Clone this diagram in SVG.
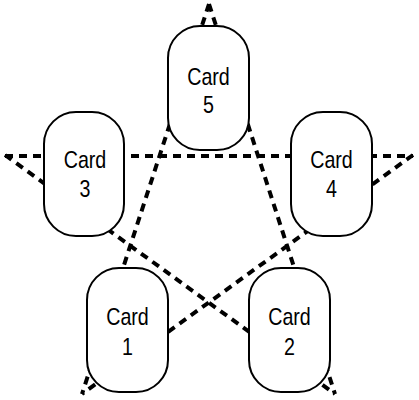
<svg xmlns="http://www.w3.org/2000/svg" width="419" height="400" viewBox="0 0 419 400">
<style>
.edge{stroke:#000;stroke-width:4;stroke-dasharray:8 6;fill:none}
.card{fill:#fff;stroke:#000;stroke-width:2}
.lbl{font-family:"Liberation Sans",Arial,sans-serif;font-size:24px;fill:#000;text-anchor:middle}
</style>
<rect width="419" height="400" fill="#fff"/>
<g id="connectors">
<line class="edge" x1="209" y1="4" x2="82" y2="394"/>
<line class="edge" x1="209" y1="4" x2="335" y2="394"/>
<line class="edge" x1="5" y1="156" x2="413" y2="156"/>
<line class="edge" x1="5" y1="155" x2="335" y2="394"/>
<line class="edge" x1="413" y1="155" x2="82" y2="394"/>
</g>
<g id="card5">
<rect class="card" x="168" y="26" width="81" height="124" rx="32" ry="32"/>
<text class="lbl" transform="translate(208.5,85) scale(0.82,1)">Card</text>
<text class="lbl" transform="translate(208.5,113) scale(0.82,1)">5</text>
</g>
<g id="card3">
<rect class="card" x="44" y="112" width="80" height="124" rx="32" ry="32"/>
<text class="lbl" transform="translate(85,168) scale(0.82,1)">Card</text>
<text class="lbl" transform="translate(85,197) scale(0.82,1)">3</text>
</g>
<g id="card4">
<rect class="card" x="291" y="112" width="81" height="124" rx="32" ry="32"/>
<text class="lbl" transform="translate(331.5,168) scale(0.82,1)">Card</text>
<text class="lbl" transform="translate(331.5,197) scale(0.82,1)">4</text>
</g>
<g id="card1">
<rect class="card" x="87" y="268" width="81" height="124" rx="32" ry="32"/>
<text class="lbl" transform="translate(127.5,325) scale(0.82,1)">Card</text>
<text class="lbl" transform="translate(127.5,355) scale(0.82,1)">1</text>
</g>
<g id="card2">
<rect class="card" x="249" y="268" width="81" height="124" rx="32" ry="32"/>
<text class="lbl" transform="translate(289.5,325) scale(0.82,1)">Card</text>
<text class="lbl" transform="translate(289.5,355) scale(0.82,1)">2</text>
</g>
</svg>
